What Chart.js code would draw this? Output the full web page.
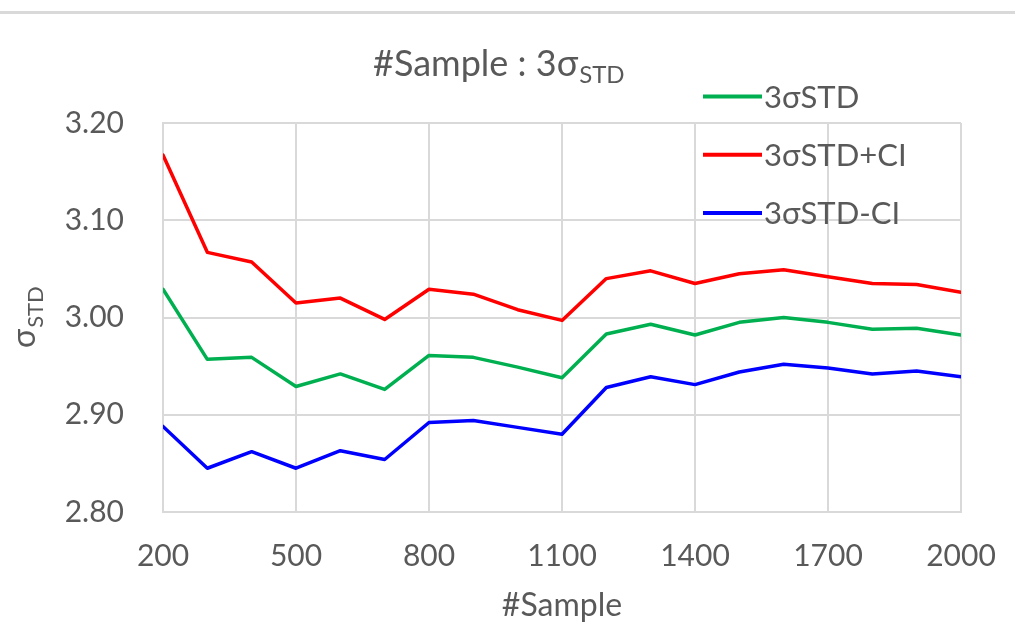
<!DOCTYPE html>
<html>
<head>
<meta charset="utf-8">
<script src="https://cdn.jsdelivr.net/npm/chart.js@4.4.0/dist/chart.umd.min.js"></script>
<style>
  html, body { margin: 0; padding: 0; background: #ffffff; }
  canvas { display: block; }
</style>
</head>
<body>
<canvas id="c" width="1015" height="628"></canvas>
<script>
// ---- data ----
const samples = [200, 300, 400, 500, 600, 700, 800, 900, 1000, 1100, 1200, 1300, 1400, 1500, 1600, 1700, 1800, 1900, 2000];
const std3 = [3.029, 2.957, 2.959, 2.929, 2.942, 2.926, 2.961, 2.959, 2.949, 2.938, 2.983, 2.993, 2.982, 2.995, 3.000, 2.995, 2.988, 2.989, 2.982];
const std3PlusCI = [3.167, 3.067, 3.057, 3.015, 3.020, 2.998, 3.029, 3.024, 3.008, 2.997, 3.040, 3.048, 3.035, 3.045, 3.049, 3.042, 3.035, 3.034, 3.026];
const std3MinusCI = [2.888, 2.845, 2.862, 2.845, 2.863, 2.854, 2.892, 2.894, 2.887, 2.880, 2.928, 2.939, 2.931, 2.944, 2.952, 2.948, 2.942, 2.945, 2.939];
const seriesNames = ['3σSTD', '3σSTD+CI', '3σSTD-CI'];
const titleMain = '#Sample : 3σ';
const titleSub = 'STD';
const yTitleMain = 'σ';
const yTitleSub = 'STD';
const xTitle = '#Sample';

const FONT = 'Lato, "Open Sans", "DejaVu Sans", sans-serif';
const TXT = '#595959';
const GRID = '#d9d9d9';

function pts(vals) { return samples.map((s, i) => ({ x: s, y: vals[i] })); }

const decor = {
  id: 'decor',
  beforeDraw(chart) {
    const ctx = chart.ctx;
    ctx.save();
    ctx.fillStyle = '#ffffff';
    ctx.fillRect(0, 0, chart.width, chart.height);
    ctx.strokeStyle = GRID;
    ctx.lineWidth = 3;
    ctx.beginPath();
    ctx.moveTo(0, 12.5);
    ctx.lineTo(chart.width, 12.5);
    ctx.stroke();
    ctx.restore();
  },
  afterDraw(chart) {
    const ctx = chart.ctx;
    const area = chart.chartArea;
    ctx.save();
    ctx.fillStyle = TXT;
    ctx.textBaseline = 'alphabetic';
    // title with subscript
    ctx.font = '36px ' + FONT;
    ctx.textAlign = 'left';
    const tx = 373, ty = 76;
    ctx.fillText(titleMain, tx, ty);
    const w1 = ctx.measureText(titleMain).width;
    ctx.font = '24px ' + FONT;
    ctx.fillText(titleSub, tx + w1 + 1, ty + 7);

    // x axis title
    ctx.font = '32px ' + FONT;
    ctx.textAlign = 'center';
    ctx.fillText(xTitle, (area.left + area.right) / 2, 616);

    // y axis title (rotated) with subscript
    ctx.save();
    ctx.translate(35, 348);
    ctx.rotate(-Math.PI / 2);
    ctx.textAlign = 'left';
    ctx.font = '32px ' + FONT;
    ctx.fillText(yTitleMain, 0, 0);
    const ws = ctx.measureText(yTitleMain).width;
    ctx.font = '22px ' + FONT;
    ctx.fillText(yTitleSub, ws + 1, 8);
    ctx.restore();

    // legend drawn inside plot area
    ctx.font = '31px ' + FONT;
    ctx.textAlign = 'left';
    ctx.textBaseline = 'middle';
    chart.data.datasets.forEach((ds, i) => {
      const y = 96.5 + i * 58.2;
      ctx.strokeStyle = ds.borderColor;
      ctx.lineWidth = 4;
      ctx.beginPath();
      ctx.moveTo(703, y);
      ctx.lineTo(762, y);
      ctx.stroke();
      ctx.fillStyle = TXT;
      ctx.fillText(ds.label, 764, y + 1);
    });
    ctx.restore();
  }
};

new Chart(document.getElementById('c'), {
  type: 'line',
  data: {
    datasets: [
      { label: seriesNames[0], data: pts(std3), borderColor: '#00b050', backgroundColor: '#00b050' },
      { label: seriesNames[1], data: pts(std3PlusCI), borderColor: '#ff0000', backgroundColor: '#ff0000' },
      { label: seriesNames[2], data: pts(std3MinusCI), borderColor: '#0000ff', backgroundColor: '#0000ff' }
    ]
  },
  options: {
    responsive: false,
    animation: false,
    elements: {
      line: { borderWidth: 3.5, tension: 0, borderCapStyle: 'round', borderJoinStyle: 'round' },
      point: { radius: 0, hoverRadius: 0 }
    },
    layout: { padding: { left: 0, right: 54, top: 123, bottom: 0 } },
    plugins: {
      legend: { display: false },
      title: { display: false },
      tooltip: { enabled: false }
    },
    scales: {
      x: {
        type: 'linear',
        min: 200,
        max: 2000,
        ticks: { stepSize: 300, color: TXT, font: { family: FONT, size: 30 }, padding: 26, maxRotation: 0, autoSkip: false, callback: v => String(v) },
        grid: { color: GRID, lineWidth: 2, drawTicks: false },
        border: { color: GRID, width: 2 },
        afterFit(s) { s.height = 116; s.paddingLeft = 0; s.paddingRight = 0; }
      },
      y: {
        min: 2.8,
        max: 3.2,
        ticks: { stepSize: 0.1, color: TXT, font: { family: FONT, size: 30 }, padding: 39, callback: v => Number(v).toFixed(2) },
        grid: { color: GRID, lineWidth: 2, drawTicks: false },
        border: { color: GRID, width: 2 },
        afterFit(s) { s.width = 163; s.paddingTop = 0; s.paddingBottom = 0; }
      }
    }
  },
  plugins: [decor]
});
</script>
</body>
</html>
